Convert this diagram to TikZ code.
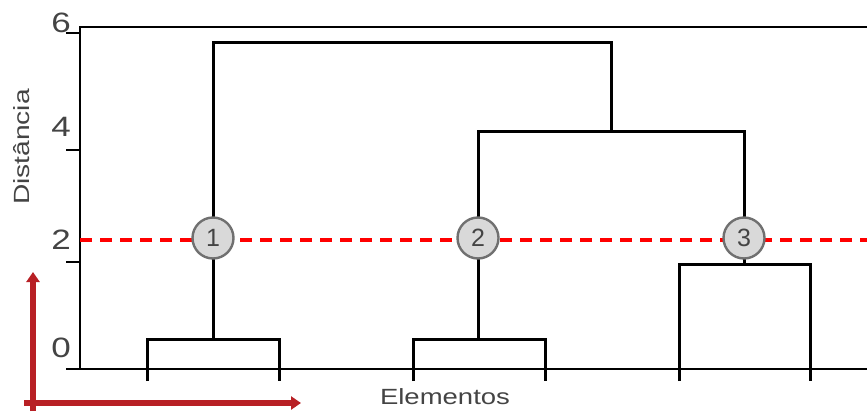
\documentclass[tikz,border=0pt]{standalone}
\usepackage{fontspec}
\setmainfont{Liberation Sans}
\usetikzlibrary{arrows.meta}
\definecolor{txt}{HTML}{444444}
\definecolor{cfill}{HTML}{D9D9D9}
\definecolor{cdraw}{HTML}{707070}
\definecolor{darr}{HTML}{B82025}
\begin{document}
\begin{tikzpicture}[x=1pt,y=-1pt,
  axisline/.style={line width=2.4pt},
  dend/.style={line width=3pt, line join=miter},
  cutline/.style={red, line width=3.5pt, dash pattern=on 12pt off 8pt},
  clus/.style={circle, draw=cdraw, fill=cfill, line width=2.4pt, minimum size=41pt, inner sep=0pt, text=txt, font=\fontsize{25}{25}\selectfont},
  ticklbl/.style={text=txt, font=\fontsize{28}{28}\selectfont, inner sep=0pt},
  axlbl/.style={text=txt, font=\fontsize{22}{22}\selectfont, inner sep=0pt},
  redarrow/.style={darr, line width=5.5pt, -{Triangle[length=10pt,width=13pt]}}]
\useasboundingbox (0,0) rectangle (867,412);
% axes
\coordinate (ytop) at (80,27);
\coordinate (ybot) at (80,369);
\coordinate (xl) at (66,369);
\coordinate (xr) at (867,369);
\coordinate (tr) at (867,27);
\draw[axisline] (tr) -- (ytop) -- (ybot);
\draw[axisline] (xl) -- (xr);
\foreach \yy in {33,150,262} \draw[axisline] (66,\yy) -- (80,\yy);
\node[ticklbl] (l6) at (61,23) {\scalebox{1.25}[1]{6}};
\node[ticklbl] (l4) at (61,127) {\scalebox{1.25}[1]{4}};
\node[ticklbl] (l2) at (61,240) {\scalebox{1.25}[1]{2}};
\node[ticklbl] (l0) at (61,348) {\scalebox{1.25}[1]{0}};
\node[axlbl, rotate=90] (ylab) at (22,147) {\scalebox{1.28}[1]{Distância}};
\node[axlbl] (xlab) at (445,397) {\scalebox{1.25}[1]{Elementos}};
% dendrogram
\coordinate (a1) at (147,381); \coordinate (a2) at (279,381);
\coordinate (b1) at (413,381); \coordinate (b2) at (545,381);
\coordinate (d1) at (679,381); \coordinate (d2) at (810,381);
\draw[dend] (a1) -- (147,339) -- (279,339) -- (a2);
\draw[dend] (b1) -- (413,339) -- (545,339) -- (b2);
\draw[dend] (d1) -- (679,264) -- (810,264) -- (d2);
\draw[dend] (213,339) -- (213,43) -- (611,43) -- (611,131);
\draw[dend] (478,339) -- (478,131) -- (744,131) -- (744,264);
% cut line
\coordinate (cl) at (80,240);
\coordinate (cr) at (867,240);
\draw[cutline] (cl) -- (cr);
\node[clus] (c1) at (213,238) {1};
\node[clus] (c2) at (478,238) {2};
\node[clus] (c3) at (744,238) {3};
% red arrows
\coordinate (va) at (33,411); \coordinate (vb) at (33,272);
\coordinate (ha) at (24,403); \coordinate (hb) at (301,403);
\draw[redarrow] (va) -- (vb);
\draw[redarrow] (ha) -- (hb);
\end{tikzpicture}
\end{document}
